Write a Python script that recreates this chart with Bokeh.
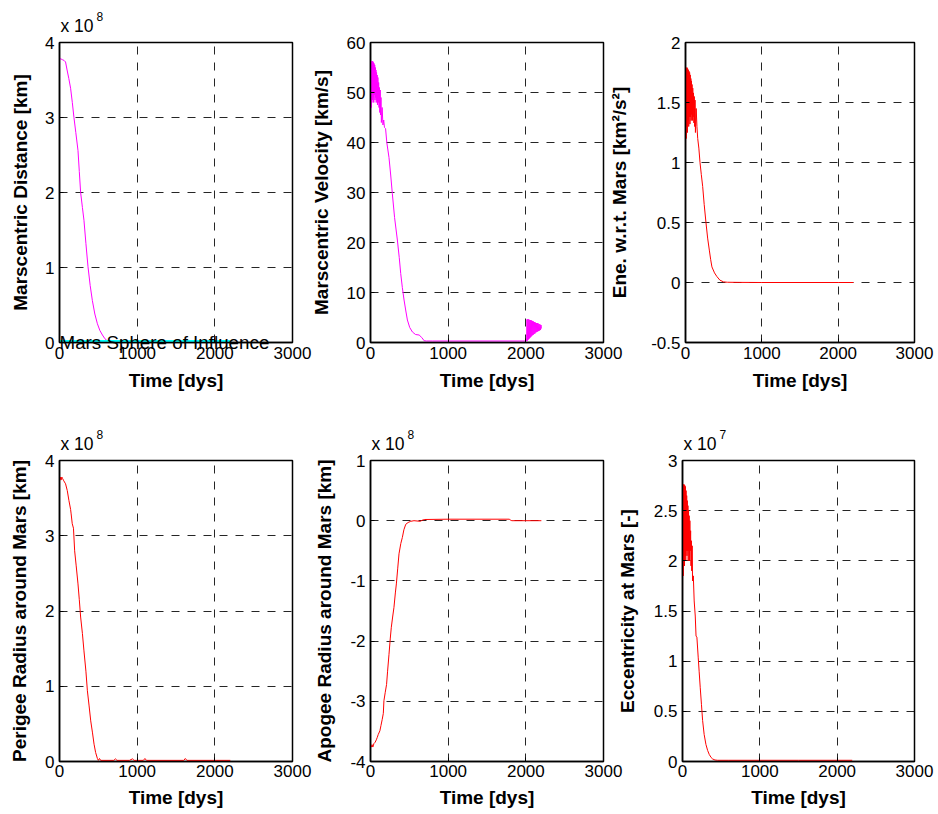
from bokeh.plotting import figure
from bokeh.layouts import row, column
from bokeh.models import FixedTicker, Label, Range1d
from bokeh.embed import file_html
from bokeh.resources import INLINE

FONT = "Liberation Sans"

# ---------------------------------------------------------------- data
time_ticks = [0, 1000, 2000, 3000]

# Marscentric distance, in units of 1e8 km
dist_t = [0, 20, 40, 60, 78, 100, 120, 143, 165, 186, 210, 238, 255, 272, 295, 315,
          340, 367, 395, 423, 455, 488, 520, 553, 585, 618, 650, 700, 800, 1000,
          1500, 2000, 2200]
dist_r = [3.79, 3.78, 3.77, 3.76, 3.74, 3.62, 3.52, 3.39, 3.2, 3.0, 2.8, 2.56, 2.28,
          2.0, 1.8, 1.63, 1.32, 1.01, 0.76, 0.56, 0.38, 0.25, 0.16, 0.1, 0.05, 0.02,
          0.01, 0.006, 0.005, 0.005, 0.005, 0.005, 0.005]

# Mars sphere of influence radius, in units of 1e8 km
soi_t = [0, 2200]
soi_r = [0.00577, 0.00577]

# Marscentric velocity [km/s]
vel_t = [0, 3, 6, 10, 14, 18, 22, 26, 30, 34, 38, 42, 46, 50, 54, 58, 62, 66, 70, 74,
         78, 82, 86, 90, 95, 100, 105, 110, 115, 120, 125, 130, 135, 140, 150, 160,
         170, 180, 194, 210, 238, 260, 281, 310, 346, 370, 389, 410, 432, 455, 475,
         505, 540, 580, 626, 660, 691, 720, 800, 1000, 1500, 2000, 2010, 2015, 2021,
         2027, 2033, 2039, 2045, 2051, 2057, 2063, 2069, 2075, 2081, 2087, 2093,
         2099, 2105, 2111, 2117, 2123, 2129, 2135, 2141, 2147, 2153, 2159, 2165,
         2171, 2177, 2183, 2189, 2195, 2200]
vel_v = [43.5, 52, 56, 47, 56.2, 48, 56.3, 48.5, 56.2, 49, 56, 48, 55.8, 49.5, 55.5,
         48.5, 55, 49, 54.5, 48, 54, 48.5, 53.5, 47.5, 53, 48, 52, 47, 51, 46, 50.5,
         45.5, 49, 44, 47, 43.5, 44.5, 43, 42.8, 40, 37, 33.5, 29.8, 25, 20.5, 17,
         13.8, 11, 8.5, 6.3, 4.5, 3, 2.1, 1.6, 1.5, 1.0, 0.35, 0.3, 0.3, 0.3, 0.3,
         0.3, 0.3, 4.6, 0.4, 4.7, 0.6, 4.6, 0.8, 4.5, 1.0, 4.5, 1.2, 4.4, 1.4, 4.3,
         1.5, 4.2, 1.7, 4.1, 1.8, 4.0, 2.0, 3.9, 2.1, 3.9, 2.2, 3.8, 2.3, 3.7, 2.4,
         3.6, 2.5, 3.5, 2.8]

# Energy with respect to Mars [km^2/s^2]
ene_t = [0, 3, 6, 10, 14, 18, 22, 26, 30, 34, 38, 42, 46, 50, 54, 58, 62, 66, 70, 74,
         78, 82, 86, 90, 95, 100, 105, 110, 115, 120, 125, 130, 140, 150, 160, 175,
         190, 207, 225, 245, 268, 290, 312, 330, 346, 380, 411, 450, 498, 550, 700,
         1000, 1500, 2000, 2200]
ene_e = [1.06, 1.5, 1.78, 1.2, 1.79, 1.3, 1.79, 1.25, 1.78, 1.35, 1.77, 1.3, 1.76,
         1.38, 1.75, 1.32, 1.73, 1.38, 1.7, 1.35, 1.68, 1.4, 1.65, 1.35, 1.62, 1.38,
         1.58, 1.33, 1.55, 1.3, 1.52, 1.25, 1.45, 1.3, 1.2, 1.12, 1.0, 0.9, 0.8, 0.65,
         0.5, 0.37, 0.27, 0.19, 0.13, 0.08, 0.05, 0.02, 0.005, 0.002, 0.001, 0, 0, 0, 0]

# Perigee radius around Mars, in units of 1e8 km
peri_t = [0, 10, 20, 30, 40, 55, 78, 100, 121, 143, 150, 164, 180, 195, 215, 238, 255,
          272, 295, 315, 340, 359, 380, 402, 425, 445, 465, 488, 500, 515, 530, 560,
          700, 720, 740, 900, 940, 960, 1080, 1100, 1120, 1600, 1620, 1640, 2200]
peri_r = [3.73, 3.78, 3.74, 3.78, 3.76, 3.73, 3.69, 3.6, 3.47, 3.35, 3.29, 3.16, 3.1,
          2.8, 2.6, 2.36, 2.15, 1.92, 1.7, 1.47, 1.2, 0.94, 0.75, 0.54, 0.38, 0.23,
          0.12, 0.04, 0.015, 0.04, 0.015, 0.015, 0.015, 0.035, 0.015, 0.015, 0.035,
          0.015, 0.015, 0.04, 0.015, 0.015, 0.04, 0.015, 0.015]

# Apogee radius around Mars, in units of 1e8 km
apo_t = [0, 10, 20, 30, 45, 60, 75, 87, 100, 121, 135, 151, 165, 173, 190, 207, 220,
         238, 255, 268, 285, 302, 320, 333, 350, 367, 390, 410, 430, 454, 484, 518,
         560, 640, 670, 700, 1000, 1500, 1790, 1800, 1820, 2000, 2200]
apo_r = [-3.74, -3.76, -3.72, -3.76, -3.7, -3.68, -3.64, -3.6, -3.55, -3.49, -3.4,
         -3.3, -3.2, -2.99, -2.85, -2.72, -2.5, -2.22, -1.95, -1.77, -1.6, -1.44, -1.2,
         -1.05, -0.8, -0.55, -0.38, -0.28, -0.15, -0.06, -0.03, -0.01, 0.0, -0.01,
         0.01, 0.02, 0.025, 0.025, 0.025, 0.01, 0.0, 0.0, 0.0]

# Eccentricity at Mars, in units of 1e7
ecc_t = [0, 3, 6, 10, 14, 18, 22, 26, 30, 34, 38, 42, 46, 50, 54, 58, 62, 66, 70, 74,
         78, 82, 86, 90, 95, 100, 105, 110, 115, 120, 125, 130, 140, 151, 165, 175,
         186, 203, 215, 229, 245, 260, 280, 303, 325, 346, 370, 390, 420, 455, 600,
         1000, 1500, 2000, 2195]
ecc_e = [1.64, 2.3, 2.76, 1.85, 2.76, 2.0, 2.76, 1.95, 2.75, 2.05, 2.74, 2.0, 2.7,
         2.1, 2.65, 2.05, 2.6, 2.1, 2.55, 2.0, 2.5, 2.1, 2.45, 2.0, 2.4, 2.1, 2.3,
         1.95, 2.2, 1.9, 2.15, 1.8, 1.85, 1.6, 1.45, 1.25, 1.24, 1.04, 0.9, 0.74,
         0.57, 0.41, 0.27, 0.17, 0.11, 0.07, 0.04, 0.025, 0.015, 0.012, 0.012, 0.012,
         0.012, 0.012, 0.012]

# y-axis tick values and their labels
dist_ticks = [0, 1, 2, 3, 4]
dist_tick_labels = ["0", "1", "2", "3", "4"]
vel_ticks = [0, 10, 20, 30, 40, 50, 60]
vel_tick_labels = ["0", "10", "20", "30", "40", "50", "60"]
ene_ticks = [-0.5, 0, 0.5, 1, 1.5, 2]
ene_tick_labels = ["-0.5", "0", "0.5", "1", "1.5", "2"]
apo_ticks = [-4, -3, -2, -1, 0, 1]
apo_tick_labels = ["-4", "-3", "-2", "-1", "0", "1"]
ecc_ticks = [0, 0.5, 1, 1.5, 2, 2.5, 3]
ecc_tick_labels = ["0", "0.5", "1", "1.5", "2", "2.5", "3"]


# ---------------------------------------------------------------- helpers
def panel(width, height, left, right, top, bottom, y_lo, y_hi, yticks, ylabels,
          ylabel, shift=0, label_standoff=12, x_label_standoff=8):
    p = figure(width=width, height=height,
               x_range=Range1d(0, 3000), y_range=Range1d(y_lo, y_hi),
               output_backend="svg", toolbar_location=None,
               min_border_left=left, min_border_right=right,
               min_border_top=top, min_border_bottom=bottom,
               background_fill_color="white", border_fill_alpha=0,
               outline_line_color="black", outline_line_width=1.5)
    if shift:
        p.margin = (0, 0, 0, shift)
    p.xaxis.ticker = FixedTicker(ticks=time_ticks)
    p.yaxis.ticker = FixedTicker(ticks=yticks)
    p.yaxis.major_label_overrides = {t: s for t, s in zip(yticks, ylabels)}
    p.xaxis.axis_label = "Time [dys]"
    p.yaxis.axis_label = ylabel
    for ax in (p.xaxis, p.yaxis):
        ax.axis_line_color = "black"
        ax.axis_line_width = 1.5
        ax.major_tick_in = 4
        ax.major_tick_out = 0
        ax.major_tick_line_color = "black"
        ax.minor_tick_line_color = None
        ax.major_label_text_font = FONT
        ax.major_label_text_font_size = "17px"
        ax.major_label_text_color = "black"
        ax.axis_label_text_font = FONT
        ax.axis_label_text_font_size = "19px"
        ax.axis_label_text_font_style = "bold"
        ax.axis_label_text_color = "black"
    p.xaxis.major_label_standoff = 4
    p.xaxis.axis_label_standoff = x_label_standoff
    p.yaxis.major_label_standoff = 5
    p.yaxis.axis_label_standoff = label_standoff
    for g in (p.xgrid, p.ygrid):
        g.grid_line_color = "black"
        g.grid_line_dash = "8 8"
        g.grid_line_width = 1
        g.grid_line_alpha = 0.85
    return p


def exponent(p, y_top, power):
    # "x 10" with a raised power, placed just above the top-left corner of the frame
    p.add_layout(Label(x=0, y=y_top, text="x 10", x_offset=1, y_offset=17,
                       text_font=FONT, text_font_size="17.5px", text_color="black",
                       text_baseline="middle", text_align="left"), "above")
    p.add_layout(Label(x=0, y=y_top, text=power, x_offset=37, y_offset=26,
                       text_font=FONT, text_font_size="12px", text_color="black",
                       text_baseline="middle", text_align="left"), "right")


# ---------------------------------------------------------------- top row
p1 = panel(320, 400, 59, 28, 42, 58, 0, 4, dist_ticks, dist_tick_labels,
           "Marscentric Distance [km]", label_standoff=11)
p1.line(dist_t, dist_r, line_color="#FF00FF", line_width=1)
p1.line(soi_t, soi_r, line_color="#00FFFF", line_width=4)
p1.add_layout(Label(x=0, y=soi_r[0], text="Mars Sphere of Influence",
                    text_font=FONT, text_font_size="18.8px", text_color="black",
                    text_baseline="middle", text_align="left"), "above")
exponent(p1, 4, "8")

p2 = panel(330, 400, 70, 27, 42, 58, 0, 60, vel_ticks, vel_tick_labels,
           "Marscentric Velocity [km/s]", shift=-20)
p2.line(vel_t, vel_v, line_color="#FF00FF", line_width=1)

p3 = panel(332, 400, 76, 24, 42, 58, -0.5, 2, ene_ticks, ene_tick_labels,
           "Ene. w.r.t. Mars [km²/s²]", shift=-24, label_standoff=18)
p3.line(ene_t, ene_e, line_color="#FF0000", line_width=1)

# ---------------------------------------------------------------- bottom row
p4 = panel(320, 414, 59, 28, 60, 53, 0, 4, dist_ticks, dist_tick_labels,
           "Perigee Radius around Mars [km]", x_label_standoff=7)
p4.line(peri_t, peri_r, line_color="#FF0000", line_width=1)
exponent(p4, 4, "8")

p5 = panel(330, 414, 70, 27, 60, 53, -4, 1, apo_ticks, apo_tick_labels,
           "Apogee Radius around Mars [km]", shift=-20, x_label_standoff=7)
p5.line(apo_t, apo_r, line_color="#FF0000", line_width=1)
exponent(p5, 1, "8")

p6 = panel(332, 414, 76, 24, 60, 53, 0, 3, ecc_ticks, ecc_tick_labels,
           "Eccentricity at Mars [-]", shift=-24, label_standoff=13,
           x_label_standoff=7)
p6.line(ecc_t, ecc_e, line_color="#FF0000", line_width=1)
exponent(p6, 3, "7")

for p in (p4, p5, p6):
    p.xaxis.major_label_standoff = 3

layout = column(row(p1, p2, p3, spacing=0), row(p4, p5, p6, spacing=0), spacing=0)

open("out.html", "w").write(file_html(layout, INLINE))
